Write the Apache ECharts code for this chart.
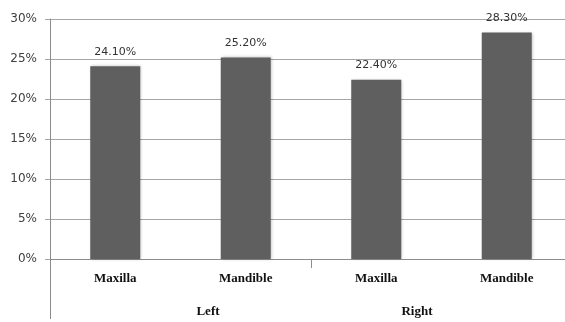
<!DOCTYPE html>
<html>
<head>
<meta charset="utf-8">
<script src="https://cdn.jsdelivr.net/npm/echarts@6/dist/echarts.min.js"></script>
<style>
  html, body { margin: 0; padding: 0; background: #ffffff; }
  #chart { width: 565px; height: 322px; }
</style>
</head>
<body>
<div id="chart"></div>
<script>
// Jaw regions, grouped by side
const categories = ['Maxilla', 'Mandible', 'Maxilla', 'Mandible'];
const groups = ['Left', 'Right'];
const values = [24.10, 25.20, 22.40, 28.30];
const yTicks = [0, 5, 10, 15, 20, 25, 30];

const chart = echarts.init(document.getElementById('chart'), null, { renderer: 'canvas' });

const lineGrey = '#a6a6a6';
const axisGrey = '#8c8c8c';
const catFont = { fontFamily: 'Liberation Serif', fontWeight: 'bold', fontSize: 13, color: '#111111' };

chart.setOption({
  animation: false,
  backgroundColor: '#ffffff',
  // plot runs a little past the right edge of the canvas
  grid: { left: 50, width: 522, top: 19, bottom: 63, containLabel: false, outerBoundsMode: 'none' },
  xAxis: [
    {
      type: 'category',
      data: categories,
      position: 'bottom',
      axisLine: { show: true, lineStyle: { color: axisGrey, width: 1 } },
      // short tick only where the two sides meet (the one at the left sits on the y axis)
      axisTick: {
        show: true, length: 9,
        interval: (i) => i === 0 || i === 2,
        lineStyle: { color: axisGrey }
      },
      axisLabel: Object.assign({ margin: 13 }, catFont)
    },
    {
      type: 'category',
      data: groups,
      position: 'bottom',
      offset: 0,
      axisLine: { show: false },
      // long outer edge on the left of the side groups
      axisTick: {
        show: true, length: 60,
        interval: (i) => i === 0,
        lineStyle: { color: axisGrey }
      },
      axisLabel: {
        margin: 46,
        formatter: (v) => v === 'Left' ? '{l|' + v + '}' : '{r|' + v + '}',
        rich: {
          l: Object.assign({ padding: [0, 0, 0, 55] }, catFont),
          r: Object.assign({ padding: [0, 49, 0, 0] }, catFont)
        }
      }
    }
  ],
  yAxis: {
    type: 'value',
    min: yTicks[0],
    max: yTicks[yTicks.length - 1],
    interval: yTicks[1] - yTicks[0],
    axisLine: { show: true, lineStyle: { color: axisGrey, width: 1 } },
    axisTick: { show: true, length: 5, lineStyle: { color: lineGrey } },
    splitLine: { show: true, lineStyle: { color: lineGrey, width: 1 } },
    axisLabel: {
      margin: 13,
      formatter: '{value}%',
      fontFamily: 'DejaVu Sans',
      fontSize: 12,
      color: '#404040'
    }
  },
  series: [
    {
      type: 'bar',
      xAxisIndex: 0,
      data: values,
      barWidth: 50,
      itemStyle: {
        color: '#5f5f5f',
        shadowColor: 'rgba(0,0,0,0.25)',
        shadowBlur: 3,
        shadowOffsetX: 1
      },
      label: {
        show: true,
        position: 'top',
        distance: 9,
        formatter: (p) => p.value.toFixed(2) + '%',
        fontFamily: 'DejaVu Sans',
        fontSize: 11,
        color: '#333333'
      }
    }
  ]
});
</script>
</body>
</html>
